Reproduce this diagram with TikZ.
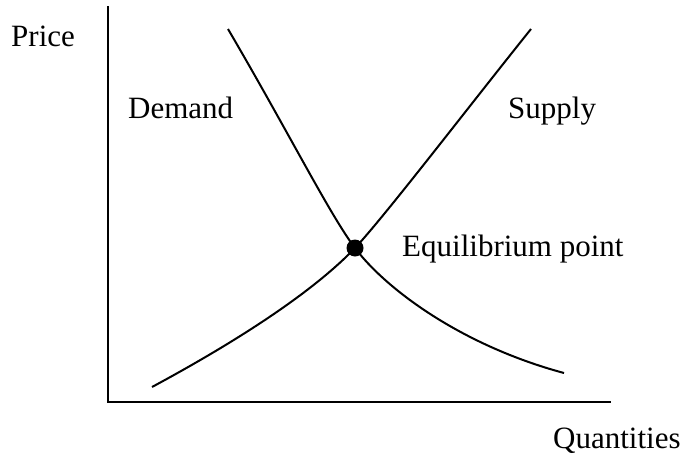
\documentclass[tikz,border=0pt]{standalone}
\usepackage{fontspec}
\setmainfont{Liberation Serif}
\begin{document}
\begin{tikzpicture}[x=1pt,y=-1pt,
  lbl/.style={anchor=base west,inner sep=0pt,font=\fontsize{31}{37}\selectfont},
  axis/.style={line width=2pt},
  curve/.style={line width=2pt}]
\useasboundingbox (0,0) rectangle (687,463);
\coordinate (top) at (108,6);
\coordinate (origin) at (108,402);
\coordinate (xend) at (611,402);
\coordinate (d0) at (228,29);
\coordinate (d1) at (564,373);
\coordinate (s0) at (152,387);
\coordinate (s1) at (531,29);
\coordinate (e) at (355,248);
\draw[axis] (top) -- (origin) -- (xend);
\draw[curve] (d0) .. controls (290,135) and (330,215) .. (e) .. controls (385,288) and (460,345) .. (d1);
\draw[curve] (s0) .. controls (230,345) and (310,295) .. (e) .. controls (385,216) and (470,105) .. (s1);
\node[circle,fill=black,minimum size=17pt,inner sep=0pt] (eq) at (e) {};
\node[lbl] (price) at (11,46) {Price};
\node[lbl] (demand) at (128,118) {Demand};
\node[lbl] (supply) at (508,118) {Supply};
\node[lbl] (eqlabel) at (402,256) {Equilibrium point};
\node[lbl] (qty) at (553,448) {Quantities};
\end{tikzpicture}
\end{document}
